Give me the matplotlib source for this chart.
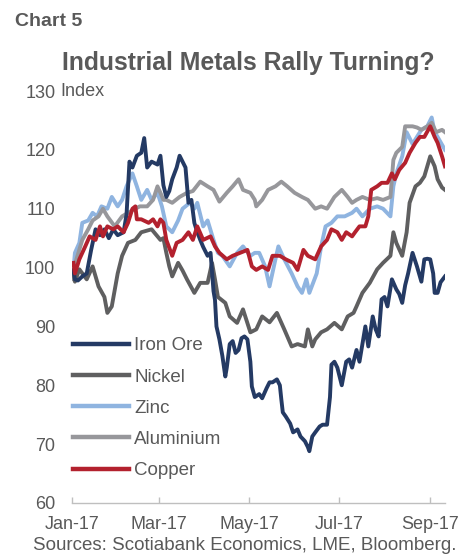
import matplotlib
matplotlib.use("Agg")
import matplotlib.pyplot as plt
import matplotlib.dates as mdates
import pandas as pd

plt.rcParams['font.family'] = ['Liberation Sans', 'DejaVu Sans']

START = pd.Timestamp('2017-01-01')

# days since 1 Jan 2017, index values
iron_days = [1, 2, 4, 7, 10, 13, 16, 19, 22, 25, 28, 31, 35, 37, 39, 41, 44, 47, 49, 51,
             54, 58, 60, 62, 64, 66, 68, 71, 73, 75, 77, 79, 81, 83, 85, 87, 89, 92, 94, 96,
             97, 98, 100, 102, 104, 105, 107, 109, 111, 113, 115, 117, 119, 121, 122, 124, 127, 129, 132, 134,
             136, 139, 141, 142, 143, 145, 148, 150, 153, 155, 158, 160, 161, 163, 165, 168, 170, 173, 175, 176,
             178, 180, 183, 186, 188, 190, 193, 195, 197, 199, 201, 204, 206, 208, 210, 212, 214, 217, 220, 222,
             224, 226, 228, 231, 234, 237, 239, 241, 243, 245, 246, 248, 250, 253]
iron_vals = [99.5, 98.0, 97.8, 98.5, 99.0, 103.0, 106.5, 105.5, 106.5, 105.0, 106.5, 105.5, 106.0, 109.0, 118.0, 117.0, 119.0, 119.5, 122.0, 117.0,
             118.0, 117.5, 119.0, 114.0, 112.0, 113.0, 115.0, 117.0, 119.0, 118.0, 117.0, 111.0, 111.5, 107.6, 106.0, 104.7, 103.5, 102.0, 102.5, 96.0,
             94.5, 90.0, 87.8, 85.0, 81.5, 83.0, 87.0, 87.5, 85.5, 86.0, 88.0, 88.3, 87.8, 84.0, 79.8, 78.0, 78.5, 77.8, 79.5, 80.5,
             80.5, 81.0, 80.0, 77.6, 75.4, 74.7, 73.5, 72.0, 72.5, 71.3, 70.5, 69.5, 68.8, 71.3, 72.0, 73.0, 73.3, 73.3, 78.0, 83.5,
             84.0, 83.0, 80.0, 84.0, 84.4, 83.0, 86.0, 84.0, 87.0, 90.0, 86.6, 91.7, 89.5, 88.3, 94.6, 95.0, 93.4, 98.0, 96.3, 95.5,
             94.0, 97.0, 99.0, 102.5, 100.2, 97.6, 101.4, 101.5, 101.4, 99.0, 95.7, 95.7, 97.5, 98.5]

nickel_days = [1, 2, 5, 10, 14, 18, 22, 24, 27, 31, 34, 38, 43, 47, 54, 60, 62, 64, 66, 68,
               72, 75, 78, 83, 87, 92, 95, 97, 99, 104, 107, 112, 116, 121, 125, 129, 134, 139, 144, 149,
               153, 158, 160, 163, 165, 169, 173, 178, 183, 187, 191, 193, 197, 202, 207, 211, 216, 218, 220, 224,
               227, 229, 233, 236, 239, 243, 246, 248, 251, 253]
nickel_vals = [99.6, 97.6, 99.7, 98.0, 100.2, 96.8, 95.0, 92.3, 93.4, 99.0, 102.0, 104.2, 104.7, 106.0, 106.5, 104.7, 105.0, 102.5, 100.2, 98.5,
               100.8, 99.5, 98.0, 95.7, 97.4, 97.4, 100.8, 98.0, 95.0, 94.0, 91.7, 90.6, 92.9, 89.0, 89.5, 91.7, 90.7, 92.3, 89.5, 86.6,
               87.0, 86.6, 89.5, 86.6, 87.8, 89.0, 89.5, 90.6, 89.5, 91.7, 92.3, 93.4, 95.7, 97.4, 99.7, 100.8, 102.0, 106.0, 104.2, 102.0,
               106.0, 111.0, 113.8, 114.4, 115.5, 118.9, 117.2, 115.0, 113.6, 113.2]

zinc_days = [1, 2, 5, 7, 11, 14, 17, 20, 24, 27, 31, 34, 37, 41, 44, 47, 51, 54, 58, 61,
             64, 68, 72, 75, 80, 83, 85, 89, 92, 96, 99, 102, 107, 112, 116, 121, 124, 127, 131, 134,
             138, 140, 144, 149, 153, 156, 159, 161, 166, 169, 172, 176, 180, 185, 190, 193, 197, 202, 207, 211,
             216, 218, 220, 224, 227, 231, 234, 237, 241, 244, 246, 248, 253]
zinc_vals = [99.7, 102.5, 104.2, 107.6, 108.0, 109.3, 108.7, 110.4, 110.0, 112.0, 110.4, 111.5, 113.8, 116.0, 113.8, 111.5, 113.2, 111.5, 112.7, 110.4,
             107.0, 106.0, 108.0, 110.0, 111.0, 110.0, 111.0, 107.0, 108.0, 104.7, 102.5, 102.0, 100.2, 102.5, 103.6, 102.0, 102.5, 102.5, 100.2, 96.8,
             101.4, 103.6, 101.4, 99.0, 96.8, 95.7, 98.0, 95.7, 99.0, 103.6, 107.0, 107.6, 108.7, 108.7, 109.3, 110.0, 108.7, 110.0, 110.4, 110.0,
             108.7, 113.8, 116.0, 118.9, 123.0, 121.0, 122.2, 123.4, 124.0, 125.5, 123.0, 122.2, 120.0]

alu_days = [1, 3, 7, 11, 14, 18, 21, 24, 29, 34, 38, 43, 46, 51, 55, 58, 60, 62, 64, 68,
            73, 78, 82, 87, 92, 96, 100, 105, 109, 113, 116, 121, 124, 125, 129, 133, 138, 142, 146, 151,
            156, 160, 165, 169, 173, 178, 183, 187, 190, 193, 197, 202, 207, 211, 216, 218, 220, 224, 226, 231,
            234, 237, 241, 244, 247, 251, 253]
alu_vals = [98.0, 101.4, 104.7, 106.5, 108.0, 108.7, 110.0, 108.7, 107.0, 108.7, 109.3, 110.0, 110.4, 110.4, 111.5, 113.8, 112.7, 111.5, 111.5, 111.0,
            112.0, 112.7, 113.0, 114.6, 113.8, 113.2, 111.2, 112.7, 113.8, 115.0, 113.2, 112.7, 111.5, 110.4, 111.5, 113.2, 113.8, 114.6, 113.8, 112.7,
            112.0, 111.5, 110.0, 110.4, 110.0, 112.0, 113.2, 112.0, 111.0, 111.5, 112.0, 111.5, 111.8, 111.5, 112.0, 118.3, 119.5, 120.5, 124.0, 124.0,
            123.8, 123.4, 124.0, 124.6, 123.0, 123.4, 123.0]

copper_days = [1, 2, 5, 9, 12, 16, 19, 21, 24, 28, 31, 35, 38, 41, 43, 44, 47, 52, 55, 58,
               60, 62, 64, 68, 71, 75, 79, 82, 85, 89, 94, 97, 100, 105, 109, 114, 119, 122, 125, 129,
               133, 136, 141, 145, 150, 153, 157, 160, 165, 169, 173, 176, 180, 183, 186, 190, 192, 195, 199, 201,
               203, 207, 210, 214, 217, 219, 222, 226, 229, 233, 236, 239, 243, 246, 248, 251, 253]
copper_vals = [100.8, 99.0, 101.4, 103.6, 105.3, 104.7, 107.0, 105.3, 107.0, 106.5, 107.0, 106.0, 107.6, 110.0, 110.4, 108.2, 108.2, 107.6, 108.2, 107.0,
               108.2, 107.6, 104.7, 102.0, 104.2, 104.7, 106.0, 104.7, 107.0, 104.7, 105.3, 103.6, 102.5, 101.4, 102.0, 102.5, 103.0, 100.2, 99.6, 100.2,
               99.6, 102.0, 102.0, 101.4, 100.8, 99.6, 103.0, 102.0, 101.4, 103.6, 104.7, 106.5, 106.0, 104.7, 106.0, 105.3, 106.0, 107.0, 107.0, 108.7,
               113.2, 113.8, 114.4, 114.4, 116.0, 115.0, 116.6, 117.8, 119.5, 121.2, 122.2, 122.2, 124.0, 122.2, 121.2, 118.9, 117.2]

series = [
    ('Iron Ore', iron_days, iron_vals, '#243a64', 5),
    ('Nickel', nickel_days, nickel_vals, '#5f5f60', 4),
    ('Zinc', zinc_days, zinc_vals, '#8fb4e0', 2),
    ('Aluminium', alu_days, alu_vals, '#97979b', 3),
    ('Copper', copper_days, copper_vals, '#b3212e', 6),
]

text_col = '#595959'

fig = plt.figure(figsize=(4.68, 5.59), dpi=100)
ax = fig.add_axes([0.1538, 0.1002, 0.797, 0.737])

for name, days, vals, col, z in series:
    dates = START + pd.to_timedelta(days, unit='D')
    ax.plot(dates, vals, color=col, lw=2.8, label=name, zorder=z,
            solid_joinstyle='round')

ax.set_xlim(START, START + pd.Timedelta(days=253))
ax.set_ylim(60, 130)
ax.set_yticks(range(60, 131, 10))

ticks = pd.to_datetime(['2017-01-01', '2017-03-01', '2017-05-01', '2017-07-01', '2017-09-01'])
ax.set_xticks(ticks)
ax.xaxis.set_major_formatter(mdates.DateFormatter('%b-%y'))

for side in ['top', 'right', 'left']:
    ax.spines[side].set_visible(False)
ax.spines['bottom'].set_color('#bfbfbf')
ax.spines['bottom'].set_linewidth(1.0)

ax.tick_params(axis='x', direction='in', length=4.5, width=1.0, color='#bfbfbf',
               labelsize=13, labelcolor=text_col, pad=9.5)
ax.tick_params(axis='y', length=0, labelsize=13, labelcolor=text_col, pad=12)

ax.text(-0.032, 130, 'Index', transform=ax.get_yaxis_transform(), ha='left', va='center',
        fontsize=13, color=text_col)

leg = ax.legend(loc='upper left', bbox_to_anchor=(0.003, 0.402), frameon=False,
                fontsize=13.5, handlelength=3.0, handletextpad=0.25, labelspacing=0.75,
                borderpad=0, borderaxespad=0)
for line in leg.get_lines():
    line.set_linewidth(3.2)
for t in leg.get_texts():
    t.set_color(text_col)

fig.text(15 / 468, 1 - 22 / 559, 'Chart 5', ha='left', va='center', fontsize=14,
         fontweight='bold', color=text_col, family=['Liberation Sans Narrow', 'Liberation Sans'])
fig.text(248.5 / 468, 1 - 63 / 559, 'Industrial Metals Rally Turning?', ha='center', va='center',
         fontsize=17.8, fontweight='bold', color=text_col)
fig.text(33 / 468, 1 - 545 / 559, 'Sources: Scotiabank Economics, LME, Bloomberg.', ha='left',
         va='center', fontsize=13.5, color=text_col)

fig.savefig('out.png', dpi=100, facecolor='white')
